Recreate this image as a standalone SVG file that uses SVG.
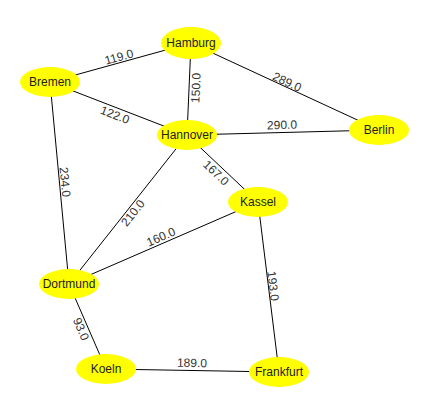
<svg xmlns="http://www.w3.org/2000/svg" width="422" height="405" viewBox="0 0 422 405">
<style>
.bg{fill:#ffffff}
.e{stroke:#000;stroke-width:1;fill:none}
.n ellipse{fill:#ffff00;stroke:none}
.n text{font-family:"Liberation Sans",Arial,sans-serif;font-size:12px;fill:#222;text-anchor:middle;dominant-baseline:central}
.l{font-family:"Liberation Sans",Arial,sans-serif;font-size:12px;fill:#333;text-anchor:middle;dominant-baseline:central}
</style>
<rect class="bg" width="422" height="405"/>
<g id="connectors">
<line class="e" x1="50" y1="82" x2="191" y2="43"/>
<line class="e" x1="50" y1="82" x2="187" y2="135"/>
<line class="e" x1="191" y1="43" x2="187" y2="135"/>
<line class="e" x1="191" y1="43" x2="379" y2="130"/>
<line class="e" x1="187" y1="135" x2="379" y2="130"/>
<line class="e" x1="187" y1="135" x2="258" y2="202"/>
<line class="e" x1="50" y1="82" x2="69" y2="284"/>
<line class="e" x1="187" y1="135" x2="69" y2="284"/>
<line class="e" x1="69" y1="284" x2="258" y2="202"/>
<line class="e" x1="258" y1="202" x2="279" y2="372"/>
<line class="e" x1="69" y1="284" x2="106" y2="369"/>
<line class="e" x1="106" y1="369" x2="279" y2="372"/>
<text class="l" x="119" y="57" transform="rotate(-15.5 119 57)">119.0</text>
<text class="l" x="115" y="115" transform="rotate(21.1 115 115)">122.0</text>
<text class="l" x="196" y="88" transform="rotate(-87.5 196 88)">150.0</text>
<text class="l" x="287" y="82" transform="rotate(24.8 287 82)">289.0</text>
<text class="l" x="282" y="125" transform="rotate(-1.5 282 125)">290.0</text>
<text class="l" x="216" y="173" transform="rotate(43.3 216 173)">167.0</text>
<text class="l" x="65" y="182" transform="rotate(84.6 65 182)">234.0</text>
<text class="l" x="133" y="213" transform="rotate(-51.6 133 213)">210.0</text>
<text class="l" x="161" y="237" transform="rotate(-23.5 161 237)">160.0</text>
<text class="l" x="273" y="286" transform="rotate(83 273 286)">193.0</text>
<text class="l" x="81" y="329" transform="rotate(66.5 81 329)">93.0</text>
<text class="l" x="192" y="363" transform="rotate(1 192 363)">189.0</text>
</g>
<g id="Hamburg" class="n"><ellipse cx="191" cy="43" rx="30" ry="16"/><text x="191" y="43">Hamburg</text></g>
<g id="Bremen" class="n"><ellipse cx="50" cy="82" rx="30" ry="15"/><text x="50" y="82">Bremen</text></g>
<g id="Hannover" class="n"><ellipse cx="187" cy="135" rx="30" ry="15"/><text x="187" y="135">Hannover</text></g>
<g id="Berlin" class="n"><ellipse cx="379" cy="130" rx="30" ry="15"/><text x="379" y="130">Berlin</text></g>
<g id="Kassel" class="n"><ellipse cx="258" cy="202" rx="30" ry="15"/><text x="258" y="202">Kassel</text></g>
<g id="Dortmund" class="n"><ellipse cx="69" cy="284" rx="30" ry="15"/><text x="69" y="284">Dortmund</text></g>
<g id="Koeln" class="n"><ellipse cx="106" cy="369" rx="30" ry="15"/><text x="106" y="369">Koeln</text></g>
<g id="Frankfurt" class="n"><ellipse cx="279" cy="372" rx="30" ry="15"/><text x="279" y="372">Frankfurt</text></g>
</svg>
